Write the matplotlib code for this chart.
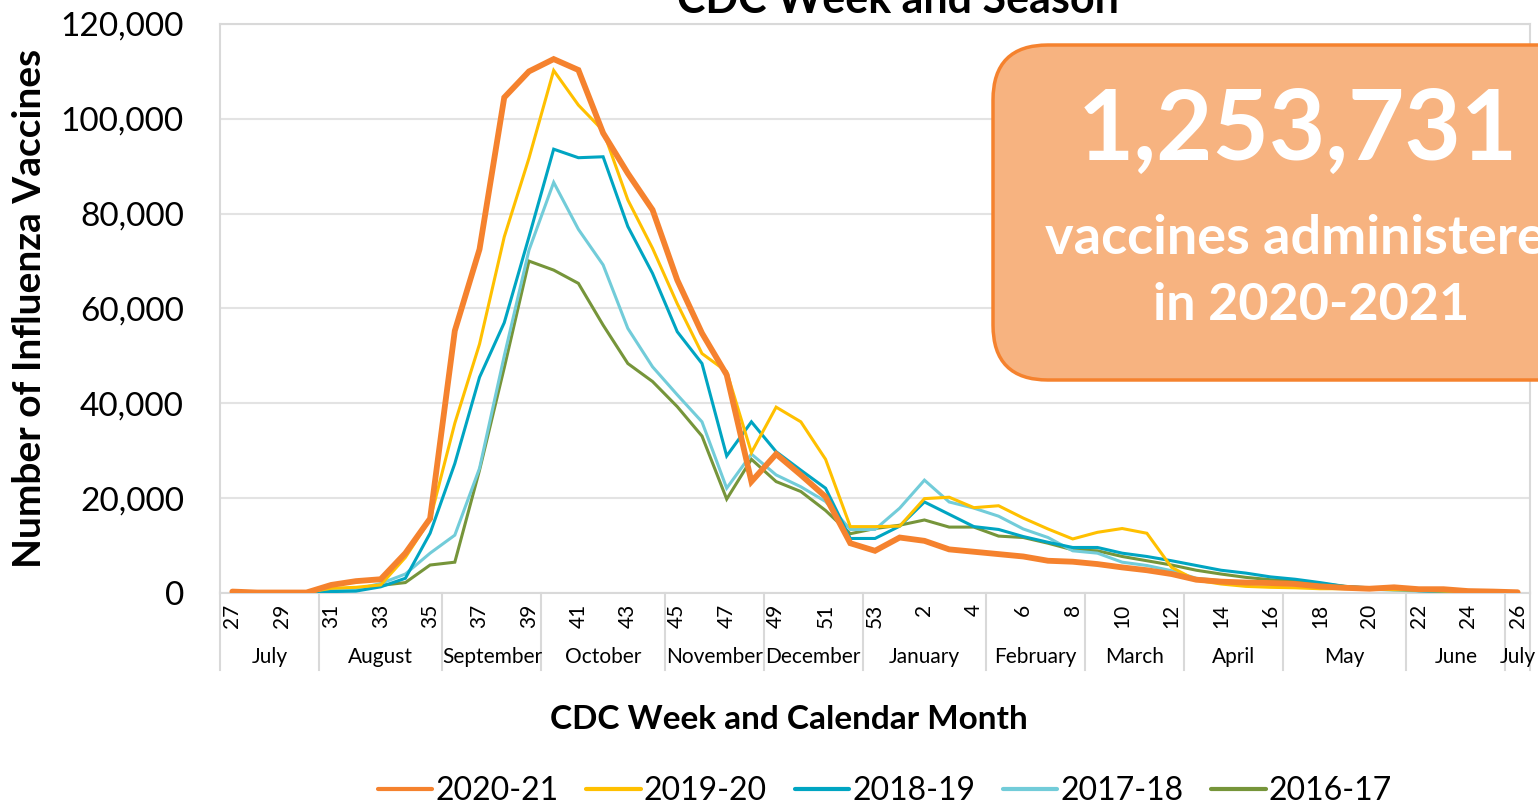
import numpy as np
import matplotlib
matplotlib.use('Agg')
import matplotlib.pyplot as plt
from matplotlib.patches import FancyBboxPatch
from matplotlib.transforms import IdentityTransform, blended_transform_factory
from matplotlib.ticker import FuncFormatter

plt.rcParams['font.family'] = ['Lato', 'DejaVu Sans']

# CDC weeks of the season, week 27 .. 53 then 1 .. 26
weeks = list(range(27, 54)) + list(range(1, 27))
months = ['July', 'August', 'September', 'October', 'November', 'December',
          'January', 'February', 'March', 'April', 'May', 'June', 'July']
month_weeks = [4, 5, 4, 5, 4, 4, 5, 4, 4, 4, 5, 4, 1]

seasons = ['2020-21', '2019-20', '2018-19', '2017-18', '2016-17']
colors = ['#F5822E', '#FFC000', '#00A5C2', '#72CCD9', '#76953A']

# vaccines per week, thousands
s2020 = [0.3, 0.1, 0.1, 0.1, 1.7, 2.5, 2.9, 8.4, 15.7,
         55.3, 72.5, 104.5, 110.0, 112.6, 110.3, 97.0, 88.5, 80.8, 66.0, 54.8,
         46.0, 23.5, 29.3, 24.9, 20.3, 10.5, 8.9,
         11.7, 11.0, 9.2, 8.7, 8.2, 7.7, 6.8, 6.6, 6.1, 5.4, 4.8, 4.0, 2.8,
         2.4, 2.2, 2.1, 1.9, 1.4, 1.1, 0.9, 1.2, 0.8, 0.8, 0.4, 0.3, 0.15]
s2019 = [0.1, 0.1, 0.1, 0.1, 1.0, 1.2, 1.7, 7.5, 15.5,
         35.8, 52.5, 75.1, 91.7, 110.2, 102.9, 97.5, 82.9, 72.7, 61.0, 50.5,
         46.7, 29.6, 39.2, 36.1, 28.2, 14.0, 14.0,
         14.1, 19.9, 20.2, 18.0, 18.4, 15.8, 13.5, 11.4, 12.8, 13.6, 12.6, 5.4, 2.7,
         1.9, 1.4, 1.2, 1.1, 0.9, 0.9, 0.8, 0.7, 0.6, 0.4, 0.3, 0.2, 0.1]
s2018 = [0.1, 0.1, 0.1, 0.1, 0.3, 0.4, 1.3, 3.1, 12.6,
         27.3, 45.5, 57.0, 75.1, 93.6, 91.8, 92.0, 77.3, 67.4, 55.1, 48.4,
         28.9, 36.1, 29.8, 25.9, 22.1, 11.5, 11.5,
         14.1, 19.2, 16.6, 14.0, 13.4, 11.9, 10.7, 9.6, 9.6, 8.4, 7.7, 6.8, 5.8,
         4.8, 4.2, 3.4, 2.9, 2.2, 1.4, 1.1, 0.8, 0.5, 0.3, 0.2, 0.15, 0.1]
s2017 = [0.1, 0.1, 0.1, 0.1, 0.5, 0.8, 2.0, 4.0, 8.4,
         12.2, 26.3, 50.0, 72.3, 86.6, 76.7, 69.2, 55.8, 47.7, 41.8, 36.1,
         22.1, 29.3, 24.9, 22.4, 19.3, 13.4, 13.4,
         17.9, 23.8, 19.2, 17.9, 16.2, 13.5, 11.7, 8.9, 8.4, 6.5, 5.8, 4.7, 3.1,
         2.6, 2.2, 1.9, 1.8, 1.6, 1.2, 0.8, 0.6, 0.4, 0.3, 0.2, 0.15, 0.1]
s2016 = [0.1, 0.1, 0.1, 0.1, 0.5, 0.8, 1.6, 2.2, 5.9,
         6.5, 25.9, 47.5, 70.0, 68.1, 65.3, 56.5, 48.4, 44.6, 39.3, 33.1,
         19.8, 28.2, 23.5, 21.4, 17.4, 12.5, 13.6,
         14.3, 15.4, 13.9, 13.9, 12.0, 11.7, 10.5, 9.1, 8.9, 7.7, 6.8, 5.9, 4.8,
         4.0, 3.3, 2.8, 2.6, 2.0, 1.4, 1.0, 0.7, 0.5, 0.3, 0.2, 0.15, 0.1]

total_text = '1,253,731'

W, H = 1538, 805
fig = plt.figure(figsize=(W / 100, H / 100), dpi=100)
ax = fig.add_axes([220 / W, 1 - 593 / H, 1310 / W, 569 / H])

x = np.arange(len(weeks))
series = [s2020, s2019, s2018, s2017, s2016]
widths = [4.2, 2.2, 2.2, 2.2, 2.2]
# draw oldest first so 2020-21 sits on top
for k in range(len(series) - 1, -1, -1):
    ax.plot(x, np.array(series[k]) * 1000, color=colors[k], lw=widths[k],
            label=seasons[k], zorder=3 + (len(series) - k),
            solid_capstyle='round', solid_joinstyle='miter')

ax.set_xlim(-0.5, len(weeks) - 0.5)
ax.set_ylim(0, 120000)
ax.set_yticks(range(0, 120001, 20000))
ax.yaxis.set_major_formatter(FuncFormatter(lambda v, p: '{:,.0f}'.format(v)))
ax.grid(axis='y', color='#E3E3E3', lw=1.5, zorder=0)
for sp in ax.spines.values():
    sp.set_color('#D9D9D9')
    sp.set_linewidth(1.5)

ax.set_xticks(x[::2])
ax.set_xticklabels([str(w) for w in weeks[::2]], rotation=90, fontsize=15)
ax.tick_params(axis='x', length=0, pad=8)
ax.tick_params(axis='y', length=0, pad=26, labelsize=24)

# month groups under the week numbers
trans = blended_transform_factory(ax.transData, ax.transAxes)
edges = np.concatenate([[0], np.cumsum(month_weeks)]) - 0.5
for e in edges:
    ax.plot([e, e], [0, -0.135], color='#D9D9D9', lw=1.5, transform=trans,
            clip_on=False)
for m, a, b in zip(months, edges[:-1], edges[1:]):
    ax.text((a + b) / 2, -0.1125, m, transform=trans, ha='center', va='center',
            fontsize=15)

fig.text(789 / W, 1 - 719 / H, 'CDC Week and Calendar Month', ha='center',
         va='center', fontsize=24, fontweight='bold')
fig.text(30 / W, 1 - 308 / H, 'Number of Influenza Vaccines', ha='center',
         va='center', rotation=90, fontsize=28, fontweight='bold')
fig.text(898 / W, 1 - 13 / H, 'CDC Week and Season', ha='center',
         va='baseline', fontsize=31, fontweight='bold')

handles, labels = ax.get_legend_handles_labels()
order = [labels.index(s) for s in seasons]
leg = ax.legend([handles[i] for i in order], seasons, loc='center',
                bbox_to_anchor=(885 / W, 1 - 791 / H),
                bbox_transform=fig.transFigure, ncol=5, frameon=False,
                fontsize=23, handlelength=1.7, handletextpad=0.1,
                columnspacing=0.87)
for ln in leg.get_lines():
    ln.set_linewidth(3)

# callout box, pixel coordinates
box = FancyBboxPatch((993, H - 380), 700, 335,
                     boxstyle='round,pad=0,rounding_size=55',
                     facecolor='#F7B380', edgecolor='#F5822E', lw=2.5,
                     transform=IdentityTransform(), zorder=10)
fig.add_artist(box)
fig.text(1298, H - 131, total_text, transform=IdentityTransform(),
         ha='center', va='center', color='white', fontsize=70,
         fontweight='bold', zorder=11)
fig.text(1311, H - 238, 'vaccines administered', transform=IdentityTransform(),
         ha='center', va='center', color='white', fontsize=39,
         fontweight='bold', zorder=11)
fig.text(1311, H - 305, 'in 2020-2021', transform=IdentityTransform(),
         ha='center', va='center', color='white', fontsize=37.5,
         fontweight='bold', zorder=11)

fig.savefig('out.png', dpi=100)
